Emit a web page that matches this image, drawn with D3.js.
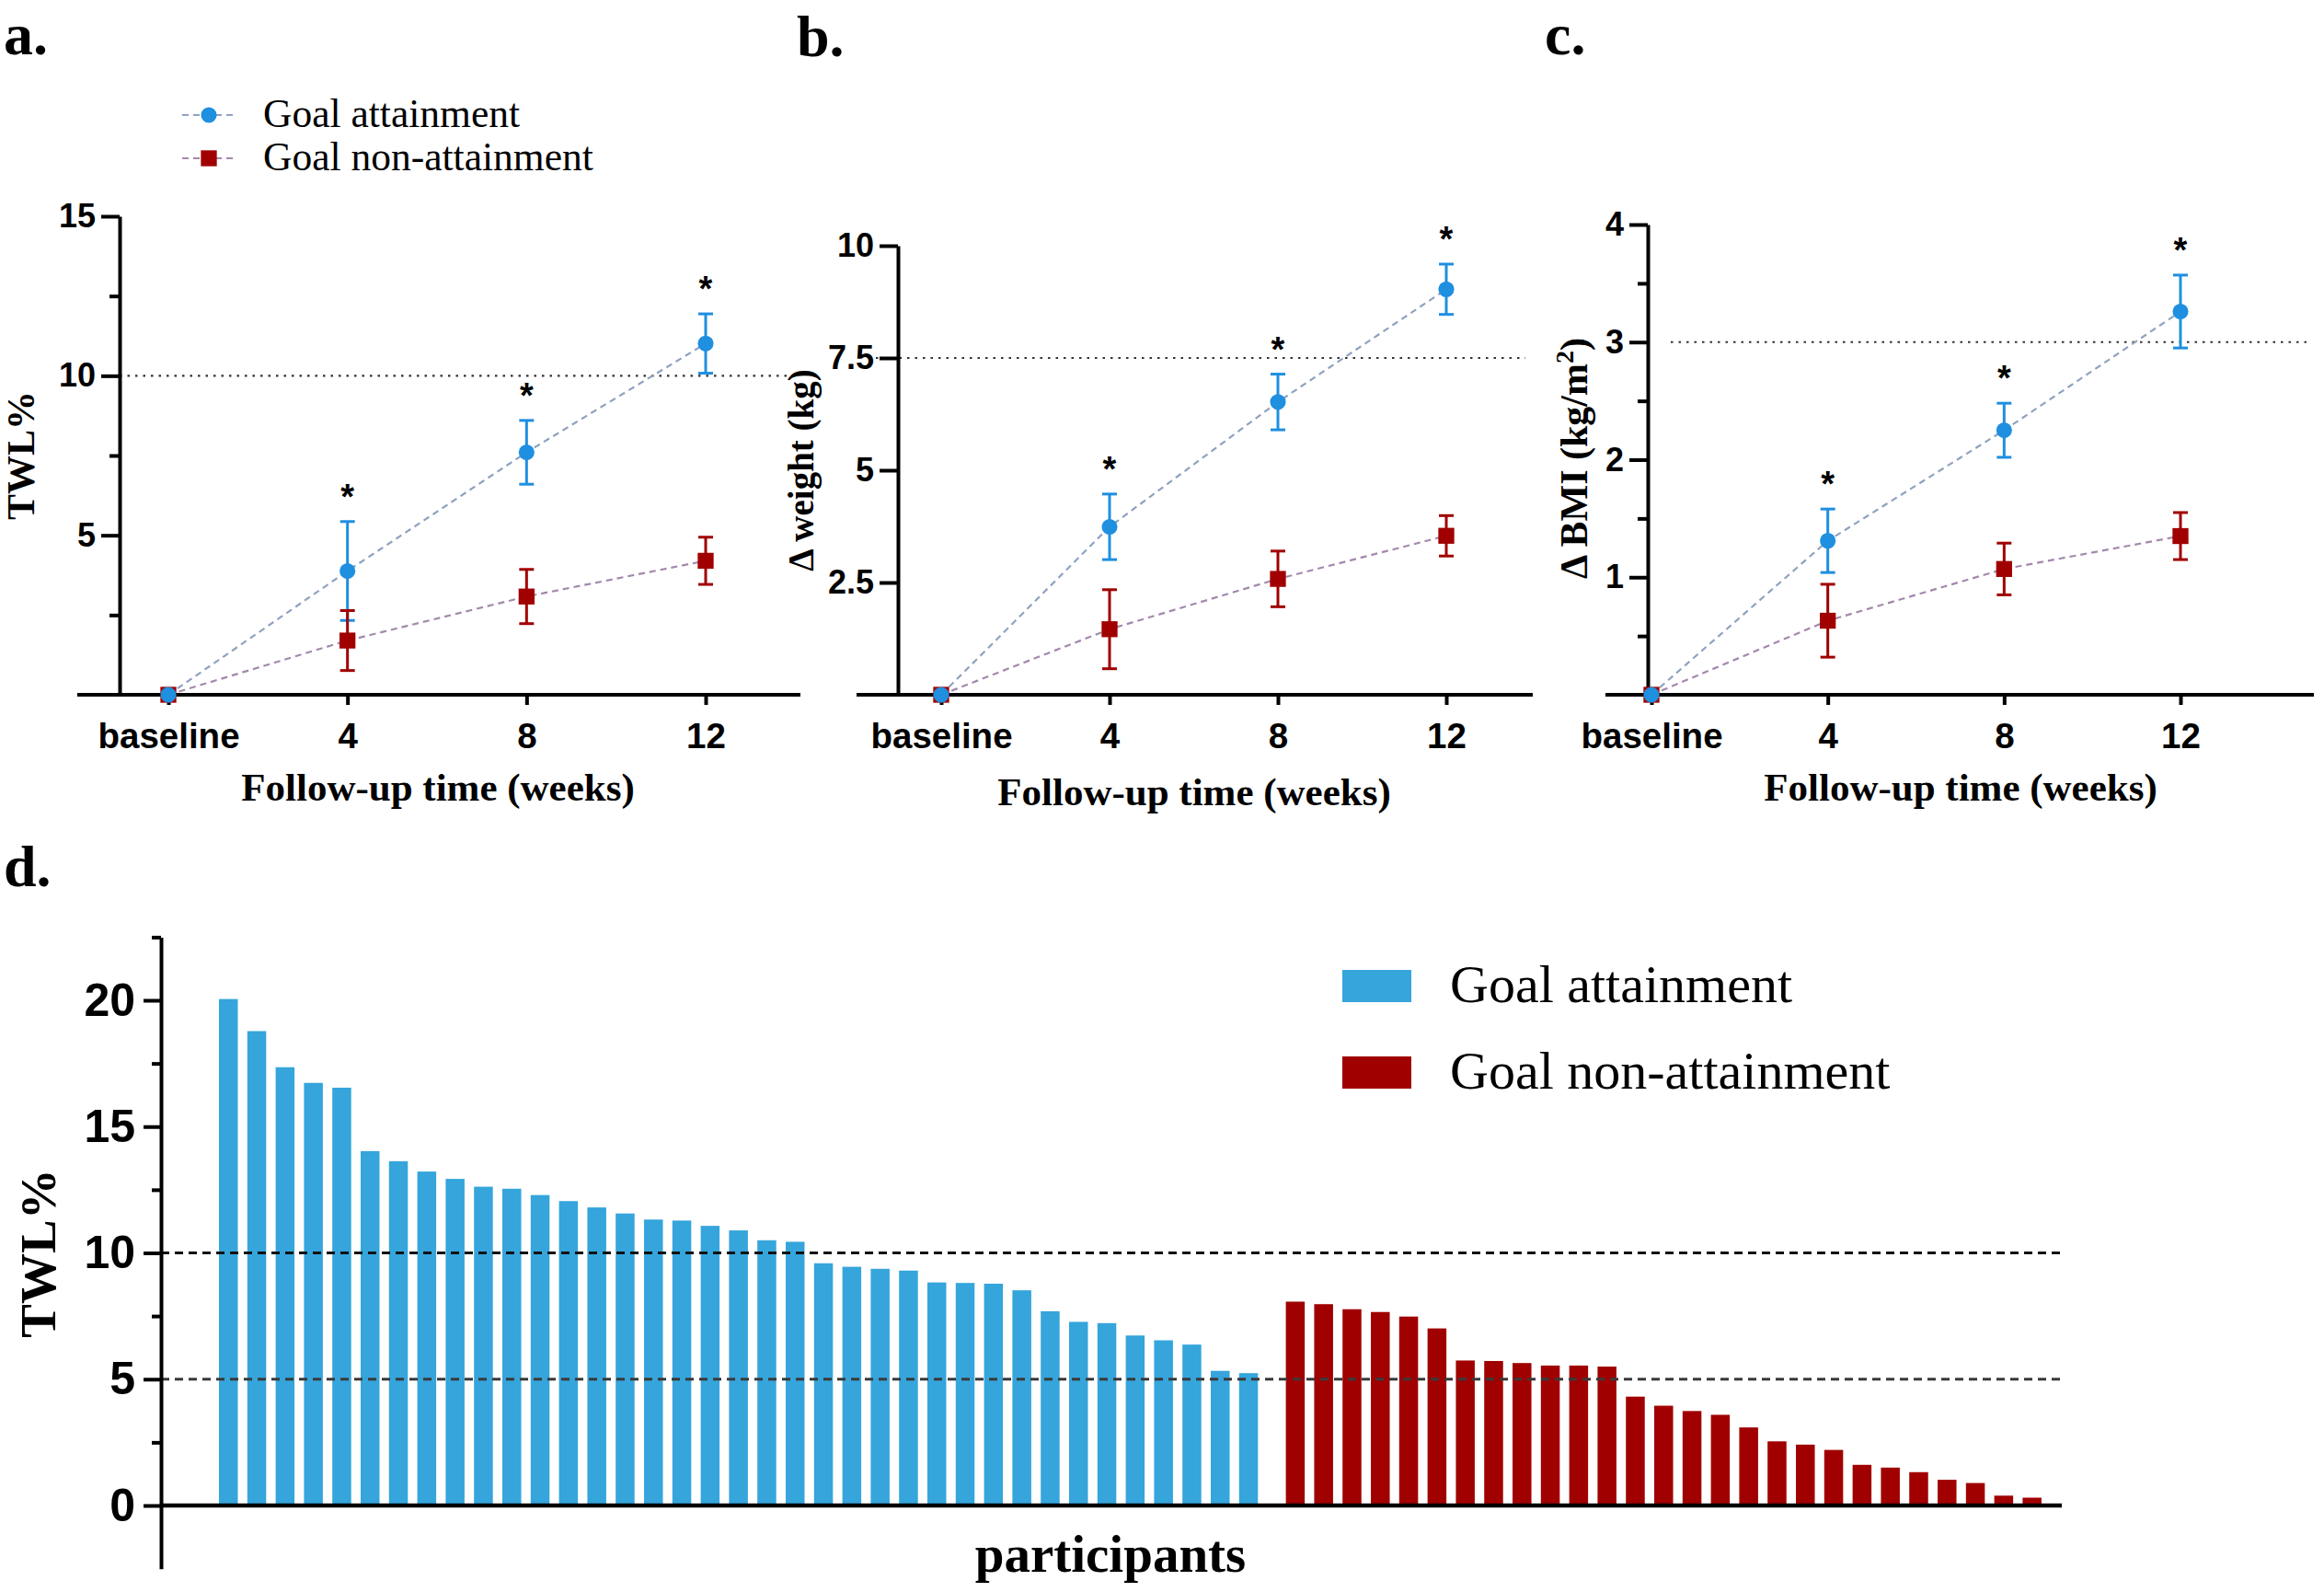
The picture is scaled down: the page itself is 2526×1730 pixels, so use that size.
<!DOCTYPE html>
<html>
<head>
<meta charset="utf-8">
<script src="https://cdn.jsdelivr.net/npm/d3@7"></script>
<style>
body { margin: 0; background: #fff; }
</style>
</head>
<body>
<script>
// ---- data ----
var weeks = ['baseline', '4', '8', '12'];
var starWeeks = ['4', '8', '12'];

var twlGoal = [0, 3.88, 7.6, 11.01];
var twlGoalErr = [0, 1.55, 1.0, 0.93];
var twlNon = [0, 1.70, 3.08, 4.2];
var twlNonErr = [0, 0.94, 0.85, 0.74];

var wtGoal = [0, 3.74, 6.52, 9.03];
var wtGoalErr = [0, 0.73, 0.62, 0.56];
var wtNon = [0, 1.46, 2.58, 3.54];
var wtNonErr = [0, 0.88, 0.62, 0.45];

var bmiGoal = [0, 1.31, 2.25, 3.26];
var bmiGoalErr = [0, 0.27, 0.23, 0.31];
var bmiNon = [0, 0.63, 1.07, 1.35];
var bmiNonErr = [0, 0.31, 0.22, 0.2];

// panel d, participants sorted by TWL%
var twlAttainers = [20.05, 18.78, 17.35, 16.73, 16.54, 14.03, 13.63, 13.22, 12.93, 12.62,
    12.54, 12.29, 12.05, 11.80, 11.56, 11.32, 11.28, 11.07, 10.89, 10.50,
    10.44, 9.59, 9.45, 9.37, 9.30, 8.83, 8.81, 8.78, 8.52, 7.69,
    7.27, 7.22, 6.73, 6.54, 6.37, 5.33, 5.24];
var twlNonAttainers = [8.07, 7.97, 7.77, 7.66, 7.48, 7.01, 5.74, 5.72, 5.64, 5.54,
    5.54, 5.50, 4.31, 3.95, 3.74, 3.59, 3.09, 2.54, 2.41, 2.20,
    1.61, 1.50, 1.32, 1.02, 0.89, 0.39, 0.31];

var groupNames = ['Goal attainment', 'Goal non-attainment'];

// ---- styling ----
var blue = '#1f8fe0', red = '#a00000';
var barBlue = '#35a5dc', barRed = '#a00000';
var lineBlue = '#8fa2bf', lineRed = '#a388ad';
var serif = '"Liberation Serif", "Times New Roman", serif';
var sans = '"Liberation Sans", Arial, sans-serif';

var width = 2526, height = 1730;

var svg = d3.select('body')
    .append('svg')
    .attr('width', width)
    .attr('height', height)
    .style('display', 'block');

svg.append('rect').attr('width', width).attr('height', height).attr('fill', '#fff');

var axisY0 = 755;

var panels = [
    { label: 'a.', labelX: 4, labelY: 59, axisX: 130, pts: [183, 767], xLine: [84, 870],
      yDomain: [0, 15], yTop: 235, major: [5, 10, 15], minor: [2.5, 7.5, 12.5],
      ref: 10, refLine: [130, 862], yTitle: 'TWL%', yTitleX: 37, yTitleY: 495, yTitleSize: 42,
      xTitleX: 476, xTitleY: 870,
      goal: twlGoal, goalErr: twlGoalErr, non: twlNon, nonErr: twlNonErr },
    { label: 'b.', labelX: 866, labelY: 61, axisX: 976, pts: [1023, 1572], xLine: [931, 1666],
      yDomain: [0, 10], yTop: 267, major: [2.5, 5, 7.5, 10], minor: [],
      ref: 7.5, refLine: [952, 1658], yTitle: 'Δ weight (kg)', yTitleX: 884, yTitleY: 511, yTitleSize: 39,
      xTitleX: 1298, xTitleY: 875,
      goal: wtGoal, goalErr: wtGoalErr, non: wtNon, nonErr: wtNonErr },
    { label: 'c.', labelX: 1679, labelY: 59, axisX: 1791, pts: [1795, 2370], xLine: [1745, 2515],
      yDomain: [0, 4], yTop: 244, major: [1, 2, 3, 4], minor: [0.5, 1.5, 2.5, 3.5],
      ref: 3, refLine: [1816, 2511], yTitle: 'BMI', yTitleX: 1725, yTitleY: 498, yTitleSize: 42,
      xTitleX: 2131, xTitleY: 870,
      goal: bmiGoal, goalErr: bmiGoalErr, non: bmiNon, nonErr: bmiNonErr }
];

function panelLabel(text, x, y) {
    svg.append('text')
        .attr('x', x).attr('y', y)
        .style('font-family', serif)
        .style('font-weight', 700)
        .style('font-size', '64px')
        .text(text);
}

function drawPanel(p) {
    var g = svg.append('g').attr('class', 'panel');
    var x = d3.scalePoint().domain(weeks).range(p.pts);
    var y = d3.scaleLinear().domain(p.yDomain).range([axisY0, p.yTop]);

    panelLabel(p.label, p.labelX, p.labelY);

    // dotted reference line
    g.append('line')
        .attr('x1', p.refLine[0]).attr('x2', p.refLine[1])
        .attr('y1', y(p.ref)).attr('y2', y(p.ref))
        .attr('stroke', '#333')
        .attr('stroke-width', 2.2)
        .attr('stroke-dasharray', '2.5,6');

    // y axis
    var ya = g.append('g')
        .attr('transform', `translate(${p.axisX},0)`)
        .call(d3.axisLeft(y).tickValues(p.major).tickSize(20).tickSizeOuter(0)
            .tickPadding(6).tickFormat(d3.format('~g')));
    ya.append('g')
        .call(d3.axisLeft(y).tickValues(p.minor).tickSize(11).tickFormat(''))
        .select('.domain').remove();
    ya.selectAll('path, line').attr('stroke', '#000').attr('stroke-width', 4);
    ya.selectAll('text')
        .style('font-family', sans).style('font-weight', 700).style('font-size', '36px')
        .attr('fill', '#000');

    // x axis
    var xa = g.append('g')
        .attr('transform', `translate(0,${axisY0})`)
        .call(d3.axisBottom(x).tickSize(11).tickPadding(20));
    xa.select('.domain').remove();
    xa.append('line')
        .attr('x1', p.xLine[0]).attr('x2', p.xLine[1])
        .attr('stroke', '#000').attr('stroke-width', 4.5);
    xa.selectAll('line').attr('stroke', '#000').attr('stroke-width', 4);
    xa.selectAll('text')
        .style('font-family', sans).style('font-weight', 700).style('font-size', '38.5px')
        .attr('fill', '#000');

    // titles
    g.append('text')
        .attr('x', p.xTitleX).attr('y', p.xTitleY)
        .attr('text-anchor', 'middle')
        .style('font-family', serif).style('font-weight', 700).style('font-size', '43px')
        .text('Follow-up time (weeks)');

    var yt = g.append('text')
        .attr('transform', `translate(${p.yTitleX},${p.yTitleY}) rotate(-90)`)
        .attr('text-anchor', 'middle')
        .style('font-family', serif).style('font-weight', 700).style('font-size', p.yTitleSize + 'px');
    if (p.yTitle === 'BMI') {
        yt.append('tspan').text('Δ BMI (kg/m');
        yt.append('tspan').attr('baseline-shift', 'super').style('font-size', '28px').text('2');
        yt.append('tspan').text(')');
    } else {
        yt.text(p.yTitle);
    }

    var series = [
        { vals: p.goal, err: p.goalErr, color: blue, line: lineBlue, shape: 'circle' },
        { vals: p.non, err: p.nonErr, color: red, line: lineRed, shape: 'square' }
    ];

    var line = d3.line()
        .x(function(d) { return x(d.w); })
        .y(function(d) { return y(d.v); });

    series.forEach(function(s) {
        s.rows = weeks.map(function(w, k) { return { w: w, v: s.vals[k], e: s.err[k] }; });
        g.append('path')
            .datum(s.rows)
            .attr('d', line)
            .attr('fill', 'none')
            .attr('stroke', s.line)
            .attr('stroke-width', 2.2)
            .attr('stroke-dasharray', '7,5');
    });

    // error bars
    series.forEach(function(s) {
        var eb = g.append('g')
            .selectAll('g')
            .data(s.rows.filter(function(d) { return d.e > 0; }))
            .enter()
            .append('g')
            .attr('stroke', s.color)
            .attr('stroke-width', 3);
        eb.append('line')
            .attr('x1', function(d) { return x(d.w); })
            .attr('x2', function(d) { return x(d.w); })
            .attr('y1', function(d) { return y(d.v - d.e); })
            .attr('y2', function(d) { return y(d.v + d.e); });
        eb.append('line')
            .attr('x1', function(d) { return x(d.w) - 8; })
            .attr('x2', function(d) { return x(d.w) + 8; })
            .attr('y1', function(d) { return y(d.v + d.e); })
            .attr('y2', function(d) { return y(d.v + d.e); });
        eb.append('line')
            .attr('x1', function(d) { return x(d.w) - 8; })
            .attr('x2', function(d) { return x(d.w) + 8; })
            .attr('y1', function(d) { return y(d.v - d.e); })
            .attr('y2', function(d) { return y(d.v - d.e); });
    });

    // markers: squares first, circles on top
    series.slice().reverse().forEach(function(s) {
        g.append('g')
            .selectAll('path')
            .data(s.rows)
            .enter()
            .append('path')
            .attr('d', d3.symbol().type(s.shape === 'circle' ? d3.symbolCircle : d3.symbolSquare)
                .size(s.shape === 'circle' ? 230 : 300))
            .attr('transform', function(d) { return `translate(${x(d.w)},${y(d.v)})`; })
            .attr('fill', s.color);
    });

    // significance stars
    g.append('g')
        .selectAll('text')
        .data(series[0].rows.filter(function(d) { return starWeeks.indexOf(d.w) >= 0; }))
        .enter()
        .append('text')
        .attr('x', function(d) { return x(d.w); })
        .attr('y', function(d) { return y(d.v + d.e) - 14; })
        .attr('text-anchor', 'middle')
        .style('font-family', sans).style('font-weight', 700).style('font-size', '38px')
        .text('*');
}

panels.forEach(drawPanel);

// legend for a-c
var legA = svg.append('g').attr('transform', 'translate(198,125)');
[0, 1].forEach(function(k) {
    var row = legA.append('g').attr('transform', `translate(0,${k * 47})`);
    row.append('line')
        .attr('x1', 0).attr('x2', 56)
        .attr('stroke', k === 0 ? lineBlue : lineRed)
        .attr('stroke-width', 2.2)
        .attr('stroke-dasharray', '7,5');
    row.append('path')
        .attr('d', d3.symbol().type(k === 0 ? d3.symbolCircle : d3.symbolSquare).size(k === 0 ? 230 : 300))
        .attr('transform', 'translate(29,0)')
        .attr('fill', k === 0 ? blue : red);
    row.append('text')
        .attr('x', 88).attr('y', 13)
        .style('font-family', serif).style('font-size', '43.5px')
        .text(groupNames[k]);
});

// ---- panel d ----
panelLabel('d.', 4, 963);

var bars = twlAttainers.map(function(v, i) { return { slot: i, v: v, grp: 0 }; })
    .concat(twlNonAttainers.map(function(v, j) {
        return { slot: twlAttainers.length + 0.65 + j, v: v, grp: 1 };
    }));

var dAxisX = 175, dZero = 1636;
var xd = d3.scaleLinear().domain([0, 1]).range([238, 268.8]);
var yd = d3.scaleLinear().domain([0, 20]).range([dZero, dZero - 549]);
var barW = 20.5;

var gd = svg.append('g');

gd.selectAll('rect.bar')
    .data(bars)
    .enter()
    .append('rect')
    .attr('class', 'bar')
    .attr('x', function(d) { return xd(d.slot); })
    .attr('width', barW)
    .attr('y', function(d) { return yd(d.v); })
    .attr('height', function(d) { return yd(0) - yd(d.v); })
    .attr('fill', function(d) { return d.grp === 0 ? barBlue : barRed; });

[{ v: 10, c: '#111' }, { v: 5, c: '#3a3a3a' }].forEach(function(r) {
    gd.append('line')
        .attr('x1', dAxisX).attr('x2', 2239)
        .attr('y1', yd(r.v)).attr('y2', yd(r.v))
        .attr('stroke', r.c)
        .attr('stroke-width', 3)
        .attr('stroke-dasharray', '9,6');
});

var yda = gd.append('g')
    .attr('transform', `translate(${dAxisX},0)`)
    .call(d3.axisLeft(yd.copy().domain([-2.5, 22.5]).range([yd(-2.5), yd(22.5)]))
        .tickValues([0, 5, 10, 15, 20]).tickSize(19).tickSizeOuter(0).tickPadding(9));
yda.append('g')
    .call(d3.axisLeft(yd).tickValues([2.5, 7.5, 12.5, 17.5, 22.5]).tickSize(10).tickFormat(''))
    .select('.domain').remove();
yda.selectAll('path, line').attr('stroke', '#000').attr('stroke-width', 4);
yda.selectAll('text')
    .style('font-family', sans).style('font-weight', 700).style('font-size', '50px')
    .attr('fill', '#000');

gd.append('line')
    .attr('x1', dAxisX).attr('x2', 2241)
    .attr('y1', dZero).attr('y2', dZero)
    .attr('stroke', '#000').attr('stroke-width', 4.5);

gd.append('text')
    .attr('transform', `translate(60,1362) rotate(-90)`)
    .attr('text-anchor', 'middle')
    .style('font-family', serif).style('font-weight', 700).style('font-size', '55px')
    .text('TWL%');

gd.append('text')
    .attr('x', 1207).attr('y', 1708)
    .attr('text-anchor', 'middle')
    .style('font-family', serif).style('font-weight', 700).style('font-size', '57px')
    .text('participants');

// legend d
var legD = svg.append('g').attr('transform', 'translate(1459,1054)');
[0, 1].forEach(function(k) {
    var row = legD.append('g').attr('transform', `translate(0,${k * 94})`);
    row.append('rect')
        .attr('width', 75).attr('height', 35)
        .attr('fill', k === 0 ? barBlue : barRed);
    row.append('text')
        .attr('x', 117).attr('y', 35)
        .style('font-family', serif).style('font-size', '58px')
        .text(groupNames[k]);
});
</script>
</body>
</html>
